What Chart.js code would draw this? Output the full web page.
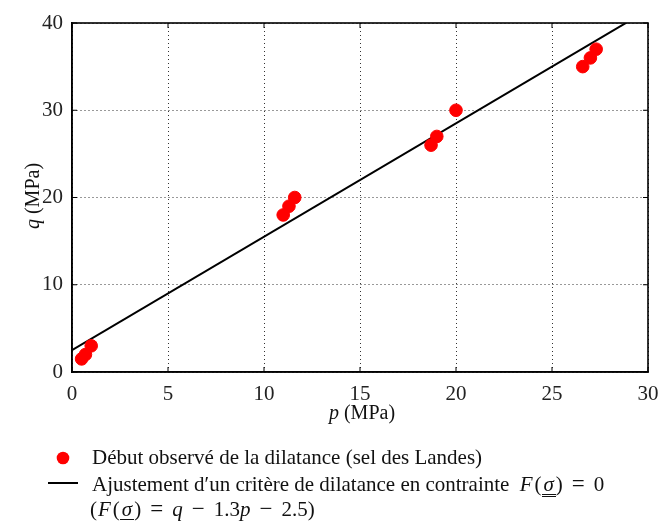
<!DOCTYPE html>
<html>
<head>
<meta charset="utf-8">
<script src="https://cdn.jsdelivr.net/npm/chart.js@4/dist/chart.umd.min.js"></script>
<style>
  html, body { margin: 0; padding: 0; background: #fff; }
  #wrap { position: relative; width: 659px; height: 522px; font-family: "Liberation Serif", "DejaVu Serif", serif; color: #111; }
  canvas { position: absolute; left: 0; top: 0; }
  .t { position: absolute; white-space: nowrap; font-size: 21px; line-height: 1; }
  .ax { font-size: 20px; }
  .i { font-style: italic; }
  .F { font-style: italic; margin-left: 1px; margin-right: 2px; }
  .op { display: inline-block; width: 31px; text-align: center; font-size: 23px; line-height: 1; }
  .u2 { border-bottom: 3px double #111; line-height: 0.9; display: inline-block; font-style: italic; padding: 0 2px; }
  .u1 { border-bottom: 1.5px solid #111; line-height: 0.9; display: inline-block; font-style: italic; padding: 0 2px; }
</style>
</head>
<body>
<div id="wrap">
  <canvas id="c" width="659" height="522"></canvas>
  <div class="t ax" style="left:-6px; top:186px; width:76px; text-align:center; transform: rotate(-90deg);"><span class="i">q</span> (MPa)</div>
  <div class="t ax" style="left:292px; top:402px; width:140px; text-align:center;"><span class="i">p</span> (MPa)</div>
  <div class="t" style="left:92px; top:447px;">Début observé de la dilatance (sel des Landes)</div>
  <div class="t" style="left:92px; top:472px;">Ajustement d′un critère de dilatance en contrainte&nbsp;<span class="F" style="margin-left:5px">F</span>(<span class="u2">σ</span>)<span class="op">=</span>0</div>
  <div class="t" style="left:90px; top:497px;">(<span class="F">F</span>(<span class="u1">σ</span>)<span class="op">=</span><span class="i">q</span><span class="op">−</span>1.3<span class="i">p</span><span class="op">−</span>2.5)</div>
</div>
<script>
// Observed dilatancy onset points (p, q) in MPa
const pObs = [0.5, 0.7, 1.0, 11.0, 11.3, 11.6, 18.7, 19.0, 20.0, 26.6, 27.0, 27.3];
const qObs = [1.5, 2.0, 3.0, 18.0, 19.0, 20.0, 26.0, 27.0, 30.0, 35.0, 36.0, 37.0];
// Fitted criterion q = 1.3 p + 2.5, endpoints
const pFit = [0, 30];
const qFit = [2.5, 41.5];
const xTicks = [0, 5, 10, 15, 20, 25, 30];
const yTicks = [0, 10, 20, 30, 40];

const boxPlugin = {
  id: 'box',
  afterDraw(chart) {
    const {ctx, chartArea: a, scales} = chart;
    ctx.save();
    ctx.strokeStyle = '#000';
    ctx.setLineDash([]);
    ctx.lineWidth = 1;
    ctx.beginPath();
    xTicks.forEach(v => {
      const x = scales.x.getPixelForValue(v);
      ctx.moveTo(x, a.bottom); ctx.lineTo(x, a.bottom - 5);
      ctx.moveTo(x, a.top); ctx.lineTo(x, a.top + 5);
    });
    yTicks.forEach(v => {
      const y = scales.y.getPixelForValue(v);
      ctx.moveTo(a.left, y); ctx.lineTo(a.left + 5, y);
      ctx.moveTo(a.right, y); ctx.lineTo(a.right - 5, y);
    });
    ctx.stroke();
    ctx.lineWidth = 1.6;
    ctx.strokeRect(a.left, a.top, a.right - a.left, a.bottom - a.top);
    // legend symbols
    ctx.fillStyle = '#ff0000';
    ctx.beginPath();
    ctx.arc(63, 458, 6.3, 0, Math.PI * 2);
    ctx.fill();
    ctx.strokeStyle = '#000';
    ctx.lineWidth = 2;
    ctx.beginPath();
    ctx.moveTo(48, 483); ctx.lineTo(78, 483);
    ctx.stroke();
    ctx.restore();
  }
};

new Chart(document.getElementById('c'), {
  type: 'scatter',
  data: {
    datasets: [
      {
        label: 'Ajustement',
        type: 'line',
        data: pFit.map((p, i) => ({x: p, y: qFit[i]})),
        borderColor: '#000',
        borderWidth: 2,
        pointRadius: 0,
        fill: false,
        order: 2
      },
      {
        label: 'Début observé',
        data: pObs.map((p, i) => ({x: p, y: qObs[i]})),
        backgroundColor: '#ff0000',
        borderColor: '#ff0000',
        pointRadius: 6.3,
        pointHoverRadius: 6.3,
        clip: false,
        order: 1
      }
    ]
  },
  options: {
    responsive: false,
    animation: false,
    devicePixelRatio: 1,
    layout: { padding: { top: 23, right: 11, left: 0, bottom: 0 } },
    plugins: { legend: { display: false }, tooltip: { enabled: false } },
    scales: {
      x: {
        type: 'linear', min: 0, max: 30,
        afterFit(s) { s.height = 150; s.paddingLeft = 0; s.paddingRight = 0; },
        afterBuildTicks(s) { s.ticks = xTicks.map(v => ({value: v})); },
        ticks: { font: { family: 'Liberation Serif', size: 21 }, color: '#222', padding: 10, maxRotation: 0 },
        grid: { color: '#333', lineWidth: 1, drawTicks: false },
        border: { display: true, color: '#000', width: 1.5, dash: [1, 3] }
      },
      y: {
        type: 'linear', min: 0, max: 40,
        afterFit(s) { s.width = 72; s.paddingTop = 0; s.paddingBottom = 0; },
        afterBuildTicks(s) { s.ticks = yTicks.map(v => ({value: v})); },
        ticks: { font: { family: 'Liberation Serif', size: 21 }, color: '#222', padding: 9 },
        grid: { color: '#333', lineWidth: 1, drawTicks: false },
        border: { display: true, color: '#000', width: 1.5, dash: [1, 3] }
      }
    }
  },
  plugins: [boxPlugin]
});
</script>
</body>
</html>
